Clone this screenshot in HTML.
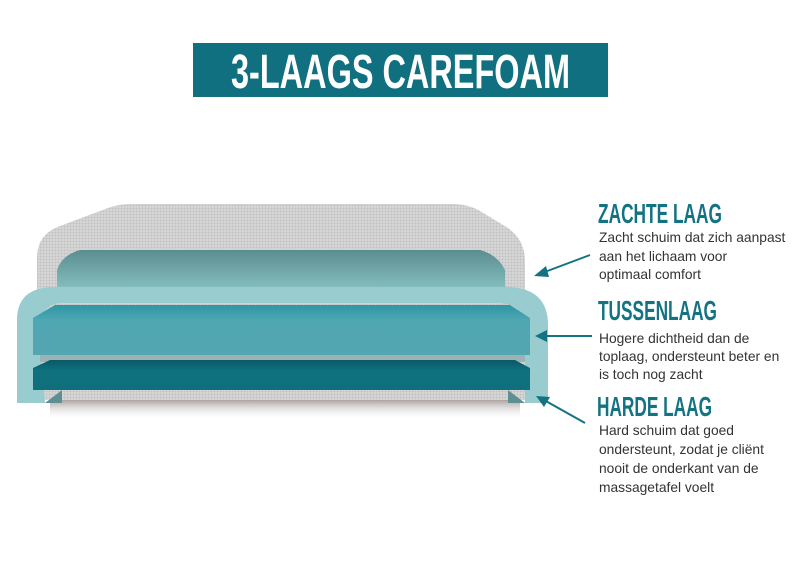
<!DOCTYPE html>
<html><head><meta charset="utf-8"><style>
body{margin:0;background:#fff;width:800px;height:580px;overflow:hidden}
svg{display:block}
.h{font-family:"Liberation Sans",sans-serif;font-weight:bold;fill:#137382}
.b{font-family:"Liberation Sans",sans-serif;font-size:13.8px;fill:#333}
</style></head><body>
<svg width="800" height="580" viewBox="0 0 800 580">
<defs>
<pattern id="dots" width="3" height="3" patternUnits="userSpaceOnUse">
<rect width="3" height="3" fill="#d6d6d6"/><circle cx="1.5" cy="1.5" r="0.9" fill="#bdbdbd"/>
</pattern>
<linearGradient id="top" x1="0" y1="0" x2="0" y2="1"><stop offset="0" stop-color="#5b8d8f"/><stop offset="1" stop-color="#86c0c1"/></linearGradient>
<linearGradient id="mid" x1="0" y1="0" x2="0" y2="1"><stop offset="0" stop-color="#2c96a4"/><stop offset="0.3" stop-color="#4fa7b2"/><stop offset="1" stop-color="#54a6b1"/></linearGradient>
<linearGradient id="bot" x1="0" y1="0" x2="0" y2="1"><stop offset="0" stop-color="#0a5867"/><stop offset="0.35" stop-color="#0f707e"/><stop offset="1" stop-color="#0f6f7d"/></linearGradient>
<linearGradient id="sh" x1="0" y1="0" x2="0" y2="1"><stop offset="0" stop-color="#9a8e8e"/><stop offset="1" stop-color="#fff" stop-opacity="0"/></linearGradient>
</defs>
<rect x="193" y="43" width="415" height="54" fill="#10707f"/>
<text x="231" y="88" textLength="339" lengthAdjust="spacingAndGlyphs" font-family="Liberation Sans,sans-serif" font-weight="bold" font-size="48" fill="#fff">3-LAAGS CAREFOAM</text>
<rect x="50" y="398" width="470" height="22" fill="url(#sh)"/>
<path d="M37,400 L37,258 Q37,234 60,226 L108,208 Q118,204 132,204 L452,204 Q468,204 480,211 L508,228 Q525,240 525,262 L525,400 Z" fill="url(#dots)"/>
<path d="M57,270 Q62,255 80,250 L480,250 Q498,255 505,270 L505,290 L57,290 Z" fill="url(#top)"/>
<path d="M17,403 L17,320 Q17,287 55,287 L505,287 Q548,287 548,325 L548,403 L525,403 L525,330 Q525,305 500,303 L60,303 Q40,305 40,330 L45,403 Z" fill="#99cccf"/>
<path d="M33,318 L55,305 L510,305 L530,318 L530,355 L33,355 Z" fill="url(#mid)"/>
<rect x="40" y="355" width="485" height="7" fill="#9bb3b4"/>
<path d="M33,368 L50,360 L515,360 L530,368 L530,390 L33,390 Z" fill="url(#bot)"/>
<rect x="45" y="390" width="480" height="10" fill="url(#dots)"/>
<path d="M45,403 L62,390 L62,403 Z" fill="#5e8f92"/>
<path d="M525,403 L508,390 L508,403 Z" fill="#5e8f92"/>
<g stroke="#137382" stroke-width="2" fill="#137382">
<line x1="590" y1="255" x2="542" y2="273"/>
<polygon points="534,276 546,266 549,277" stroke="none"/>
<line x1="592" y1="336" x2="544" y2="336"/>
<polygon points="535,336 547,330 547,342" stroke="none"/>
<line x1="585" y1="423" x2="544" y2="400"/>
<polygon points="536,396 550,397 544,407" stroke="none"/>
</g>
<text class="h" x="598" y="223" font-size="28" textLength="124" lengthAdjust="spacingAndGlyphs">ZACHTE LAAG</text>
<text class="b" x="599" y="242">Zacht schuim dat zich aanpast</text>
<text class="b" x="599" y="261">aan het lichaam voor</text>
<text class="b" x="599" y="279">optimaal comfort</text>
<text class="h" x="598" y="320" font-size="28" textLength="119" lengthAdjust="spacingAndGlyphs">TUSSENLAAG</text>
<text class="b" x="599" y="343">Hogere dichtheid dan de</text>
<text class="b" x="599" y="361">toplaag, ondersteunt beter en</text>
<text class="b" x="599" y="379">is toch nog zacht</text>
<text class="h" x="597" y="416" font-size="28" textLength="115" lengthAdjust="spacingAndGlyphs">HARDE LAAG</text>
<text class="b" x="599" y="435">Hard schuim dat goed</text>
<text class="b" x="599" y="454">ondersteunt, zodat je cliënt</text>
<text class="b" x="599" y="473">nooit de onderkant van de</text>
<text class="b" x="599" y="492">massagetafel voelt</text>
</svg>
</body></html>
